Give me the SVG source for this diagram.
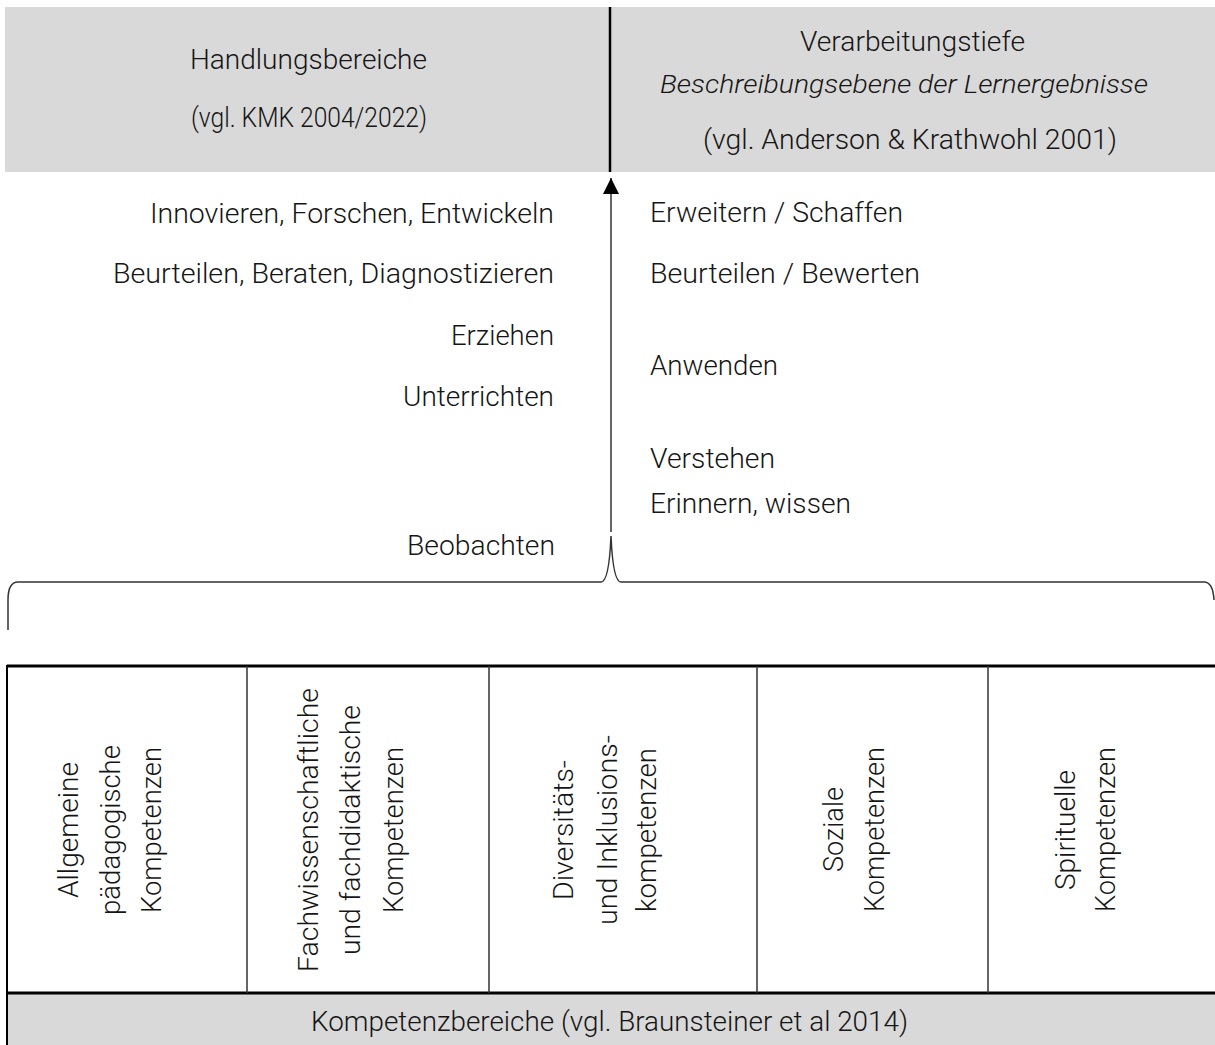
<svg xmlns="http://www.w3.org/2000/svg" width="1215" height="1045" viewBox="0 0 1215 1045">
<style>
text{font-family:Roboto,"Liberation Sans",sans-serif;font-weight:300;fill:#151515;font-size:27px}
.it{font-style:italic;font-size:25px}
.band{fill:#d9d9d9}
.thin{stroke:#333;stroke-width:1.5;fill:none}
.thick{stroke:#000;stroke-width:3;fill:none}
</style>
<defs>
<marker id="ah" viewBox="0 0 10 10" refX="10" refY="5" markerWidth="16" markerHeight="16" markerUnits="userSpaceOnUse" orient="auto">
<path d="M0,0 L10,5 L0,10 z" fill="#000"/>
</marker>
</defs>

<g id="header-left">
<rect class="band" x="5" y="7" width="605" height="165"/>
<text x="190" y="69" textLength="237" lengthAdjust="spacingAndGlyphs">Handlungsbereiche</text>
<text x="191" y="127" textLength="236" lengthAdjust="spacingAndGlyphs">(vgl. KMK 2004/2022)</text>
</g>
<g id="header-right">
<rect class="band" x="610" y="7" width="605" height="165"/>
<text x="800" y="51" textLength="225" lengthAdjust="spacingAndGlyphs">Verarbeitungstiefe</text>
<text class="it" x="660" y="93" textLength="488" lengthAdjust="spacingAndGlyphs">Beschreibungsebene der Lernergebnisse</text>
<text x="703" y="149" textLength="414" lengthAdjust="spacingAndGlyphs">(vgl. Anderson &amp; Krathwohl 2001)</text>
</g>

<g id="handlungsbereiche">
<text x="150" y="223" textLength="404" lengthAdjust="spacingAndGlyphs">Innovieren, Forschen, Entwickeln</text>
<text x="113" y="283" textLength="441" lengthAdjust="spacingAndGlyphs">Beurteilen, Beraten, Diagnostizieren</text>
<text x="451" y="345" textLength="103" lengthAdjust="spacingAndGlyphs">Erziehen</text>
<text x="403" y="406" textLength="151" lengthAdjust="spacingAndGlyphs">Unterrichten</text>
<text x="407" y="555" textLength="148" lengthAdjust="spacingAndGlyphs">Beobachten</text>
</g>

<g id="verarbeitungstiefe">
<text x="650" y="222" textLength="253" lengthAdjust="spacingAndGlyphs">Erweitern / Schaffen</text>
<text x="650" y="283" textLength="270" lengthAdjust="spacingAndGlyphs">Beurteilen / Bewerten</text>
<text x="650" y="375" textLength="128" lengthAdjust="spacingAndGlyphs">Anwenden</text>
<text x="650" y="468" textLength="125" lengthAdjust="spacingAndGlyphs">Verstehen</text>
<text x="650" y="513" textLength="201" lengthAdjust="spacingAndGlyphs">Erinnern, wissen</text>
</g>

<g id="connectors">
<line x1="610" y1="7" x2="610" y2="172" stroke="#000" stroke-width="2.5"/>
<line x1="611" y1="532" x2="611" y2="178" stroke="#333" stroke-width="1.5" marker-end="url(#ah)"/>
<path class="thin" d="M8,630 L8,600 Q8,582 18,582 L601,582 Q609,582 611,536 Q613,582 621,582 L1204,582 Q1213,582 1214,600"/>
</g>

<g id="kompetenzen-table">
<rect x="7" y="993" width="1208" height="52" class="band"/>
<line x1="7" y1="666" x2="1215" y2="666" class="thick"/>
<line x1="7" y1="993" x2="1215" y2="993" class="thick"/>
<line x1="7" y1="665" x2="7" y2="1045" stroke="#000" stroke-width="2"/>
<line x1="247" y1="666" x2="247" y2="993" class="thin"/>
<line x1="489" y1="666" x2="489" y2="993" class="thin"/>
<line x1="757" y1="666" x2="757" y2="993" class="thin"/>
<line x1="988" y1="666" x2="988" y2="993" class="thin"/>
</g>

<g id="col-allgemein">
<text transform="translate(78,898) rotate(-90)" textLength="136" lengthAdjust="spacingAndGlyphs">Allgemeine</text>
<text transform="translate(120,915) rotate(-90)" textLength="170" lengthAdjust="spacingAndGlyphs">pädagogische</text>
<text transform="translate(161,913) rotate(-90)" textLength="166" lengthAdjust="spacingAndGlyphs">Kompetenzen</text>
</g>
<g id="col-fach">
<text transform="translate(318,972) rotate(-90)" textLength="284" lengthAdjust="spacingAndGlyphs">Fachwissenschaftliche</text>
<text transform="translate(360,955) rotate(-90)" textLength="250" lengthAdjust="spacingAndGlyphs">und fachdidaktische</text>
<text transform="translate(403,913) rotate(-90)" textLength="166" lengthAdjust="spacingAndGlyphs">Kompetenzen</text>
</g>
<g id="col-diversitaet">
<text transform="translate(573,900) rotate(-90)" textLength="140" lengthAdjust="spacingAndGlyphs">Diversitäts-</text>
<text transform="translate(617,925) rotate(-90)" textLength="190" lengthAdjust="spacingAndGlyphs">und Inklusions-</text>
<text transform="translate(656,912) rotate(-90)" textLength="164" lengthAdjust="spacingAndGlyphs">kompetenzen</text>
</g>
<g id="col-sozial">
<text transform="translate(843,872) rotate(-90)" textLength="85" lengthAdjust="spacingAndGlyphs">Soziale</text>
<text transform="translate(884,912) rotate(-90)" textLength="165" lengthAdjust="spacingAndGlyphs">Kompetenzen</text>
</g>
<g id="col-spirituell">
<text transform="translate(1075,890) rotate(-90)" textLength="120" lengthAdjust="spacingAndGlyphs">Spirituelle</text>
<text transform="translate(1115,912) rotate(-90)" textLength="165" lengthAdjust="spacingAndGlyphs">Kompetenzen</text>
</g>

<g id="kompetenzbereiche">
<text x="311" y="1031" textLength="597" lengthAdjust="spacingAndGlyphs">Kompetenzbereiche (vgl. Braunsteiner et al 2014)</text>
</g>
</svg>
